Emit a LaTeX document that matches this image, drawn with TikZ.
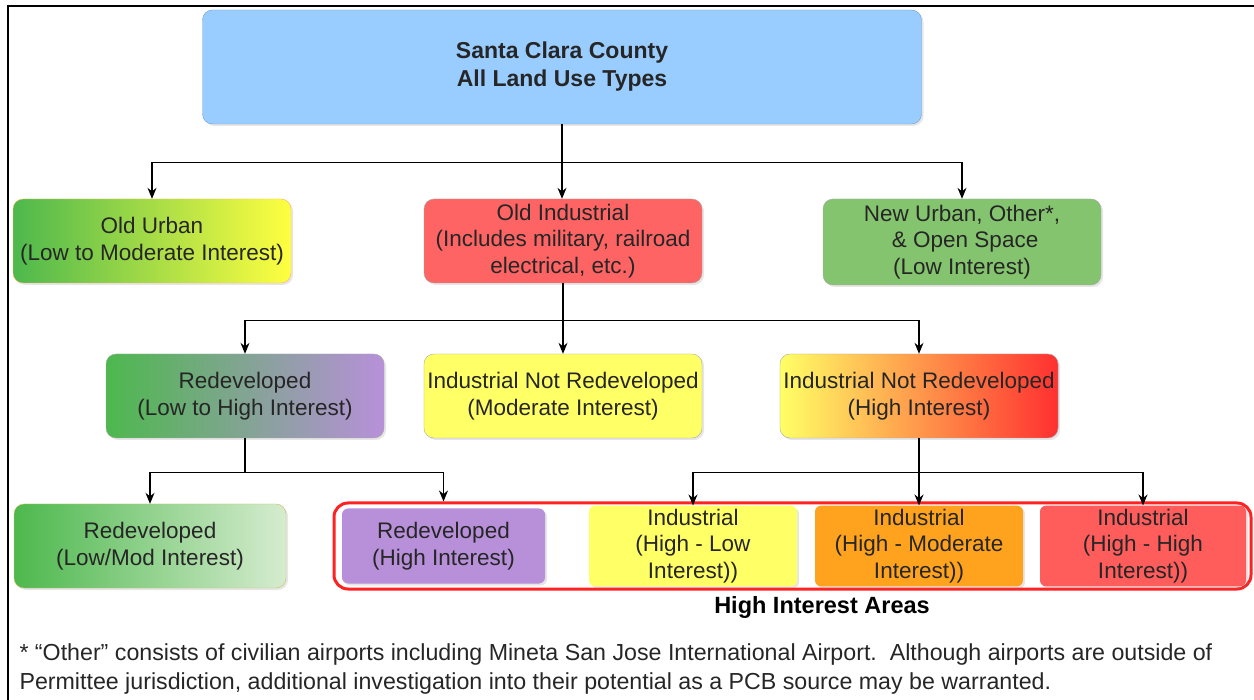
\documentclass[tikz,border=0pt]{standalone}
\usepackage{fontspec}
\setmainfont{Liberation Sans}
\usepackage{xcolor}
\usepackage{tikz}
\usetikzlibrary{shadows,arrows.meta}

\definecolor{skyblue}{HTML}{99CCFF}
\definecolor{skyline}{HTML}{6F9FD0}
\definecolor{urbgreen}{HTML}{4DB84D}
\definecolor{urbyellow}{HTML}{FFFF40}
\definecolor{indred}{HTML}{FF6464}
\definecolor{newgreen}{HTML}{84C46E}
\definecolor{lilac}{HTML}{B890DA}
\definecolor{lemon}{HTML}{FFFF66}
\definecolor{amber}{HTML}{FFA31F}
\definecolor{hotred}{HTML}{FF3030}
\definecolor{pinkred}{HTML}{FF5C5C}
\definecolor{palegreen}{HTML}{D6ECCF}
\definecolor{frame}{HTML}{FF2222}

\begin{document}
\begin{tikzpicture}[x=1pt,y=-1pt,
    box/.style={rounded corners=10pt, draw=black!35, minimum width=278pt, minimum height=84pt,
        align=center, text=black!85, font=\fontsize{22.5}{26.5}\selectfont,
        drop shadow={opacity=0.2, shadow xshift=2pt, shadow yshift=-2pt}},
    smallbox/.style={box, draw=none, minimum width=206pt, minimum height=75pt, rounded corners=6pt, drop shadow={opacity=0}},
    link/.style={-{Stealth[length=11pt,width=9pt]}, line width=1.1pt}]

    \useasboundingbox (0,0) rectangle (1254,700);
    \draw [line width=1.6pt] (8,700) -- (8,6) -- (1254,6);

    % level 0
    \node [box, fill=skyblue, draw=skyline, minimum width=719pt, minimum height=114pt,
        font=\fontsize{23}{28}\selectfont\bfseries] (county) at (562,67) {\rule{0pt}{12pt}Santa Clara County\\All Land Use Types};

    % level 1
    \node [box, left color=urbgreen, right color=urbyellow, draw=orange!60] (oldurban) at (152,241) {Old Urban\\(Low to Moderate Interest)};
    \node [box, fill=indred] (oldind) at (563,241) {Old Industrial\\(Includes military, railroad\\electrical, etc.)};
    \node [box, fill=newgreen, minimum height=86pt] (newurban) at (962,242) {New Urban, Other*,\\\ \& Open Space\\(Low Interest)};

    % level 2
    \node [box, left color=urbgreen, right color=lilac] (redev) at (245,396) {Redeveloped\\(Low to High Interest)};
    \node [box, fill=lemon] (notredevmod) at (563,396) {Industrial Not Redeveloped\\(Moderate Interest)};
    \node [box, left color=lemon, middle color=amber, right color=hotred] (notredevhigh) at (919,396) {Industrial Not Redeveloped\\(High Interest)};

    % level 3
    \node [box, left color=urbgreen, right color=palegreen, minimum width=272pt, draw=olive!50] (redevlow) at (150,546) {Redeveloped\\(Low/Mod Interest)};
    \node [rounded corners=14pt, draw=frame, line width=3pt, minimum width=917pt, minimum height=86pt] (group) at (792.5,546) {};
    \node [smallbox, fill=lilac, minimum width=203pt] (redevhigh) at (443.5,546) {Redeveloped\\(High Interest)};
    \node [smallbox, fill=lemon, minimum width=208pt] (indlow) at (693,546) {Industrial\\(High - Low\\Interest))};
    \node [smallbox, fill=amber, minimum width=208pt] (indmod) at (919,546) {Industrial\\(High - Moderate\\Interest))};
    \node [smallbox, fill=pinkred, minimum width=206pt] (indhigh) at (1143,546) {Industrial\\(High - High\\Interest))};
    \node [font=\fontsize{23.5}{28}\selectfont\bfseries] (areas) at (822,607) {High Interest Areas};

    % footnote
    \node [anchor=north west, align=left, font=\fontsize{23.2}{29}\selectfont, text=black!85] (note) at (16,640)
        {* “Other” consists of civilian airports including Mineta San Jose International Airport.\ \ Although airports are outside of\\
        Permittee jurisdiction, additional investigation into their potential as a PCB source may be warranted.};

    % connectors
    \draw [link] (county.south) -- (county.south |- oldind.north);
    \draw [link] (county.south) -- ++(0,38) -| (oldurban.north);
    \draw [link] (county.south) -- ++(0,38) -| (newurban.north);

    \draw [link] (oldind.south) -- (notredevmod.north);
    \draw [link] (oldind.south) -- ++(0,37) -| (redev.north);
    \draw [link] (oldind.south) -- ++(0,37) -| (notredevhigh.north);

    \draw [link] (redev.south) -- ++(0,34) -| (redevlow.north);
    \draw [link] (redev.south) -- ++(0,34) -| (group.north -| redevhigh.north);

    \draw [link] (notredevhigh.south) -- (indmod.north);
    \draw [link] (notredevhigh.south) -- ++(0,34) -| (indlow.north);
    \draw [link] (notredevhigh.south) -- ++(0,34) -| (indhigh.north);

\end{tikzpicture}
\end{document}
